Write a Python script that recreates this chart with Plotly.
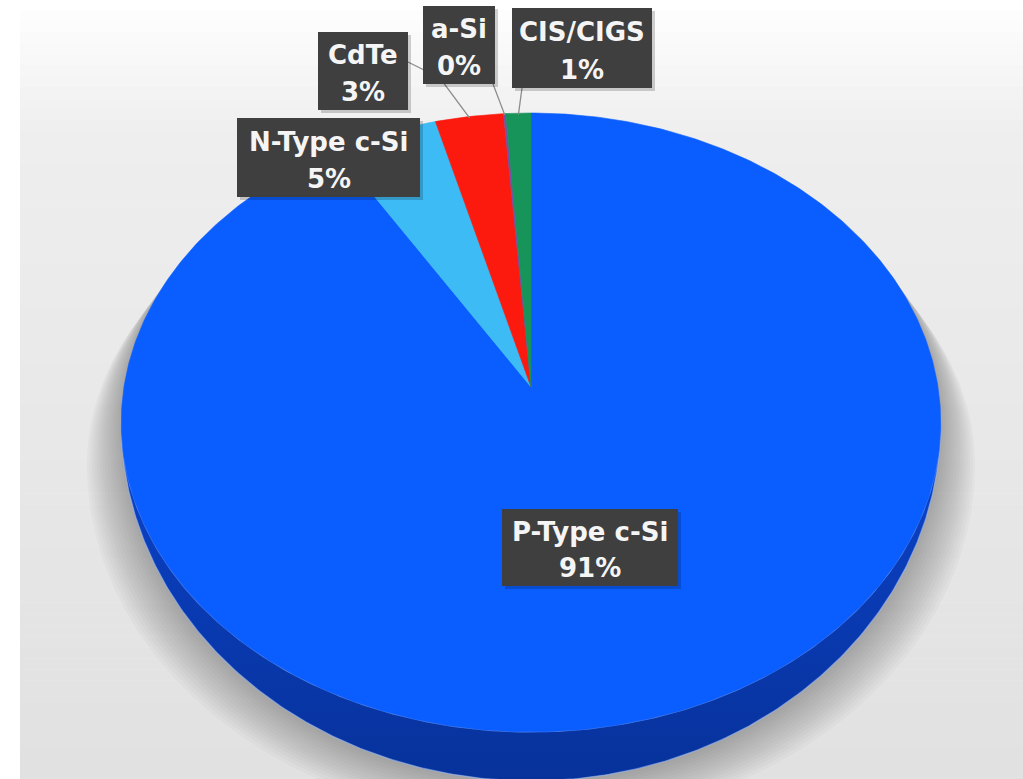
import numpy as np
import plotly.graph_objects as go

# ---- data -------------------------------------------------------------
labels = ["P-Type c-Si", "N-Type c-Si", "CdTe", "a-Si", "CIS/CIGS"]
shares = [91.2, 4.6, 3.0, 0.1, 1.1]          # percent of total
colors = ["#0a5dff", "#3dbbf4", "#fc1a0e", "#7a4fa8", "#16945a"]

# ---- geometry of the tilted pie (perspective view of a disc) ----------
W, H = 1023, 779
CX, CY = 531.0, 387.0      # projected centre of the disc
AX, BY = 407.0, 305.4      # horizontal / vertical radius scale
P = 0.1147                 # perspective strength (far side smaller)
WALL = 1.158               # lower rim is seen more open than the upper one


def project(theta, r=1.0):
    x = r * np.cos(theta)
    y = r * np.sin(theta)
    d = 1.0 + P * y
    return CX + AX * x / d, CY - BY * y / d


def arc(t0, t1, n=200):
    t = np.linspace(t0, t1, n)
    return project(t)


a = np.arcsin(P)
tL, tR = np.pi + a, 2 * np.pi - a            # widest points of the top face
_, PIVOT = project(tL)


def lower_rim(t0, t1, n=300):
    x, y = arc(t0, t1, n)
    return x, PIVOT + (y - PIVOT) * WALL


fig = go.Figure()

# ---- background -------------------------------------------------------
shapes = []
shapes.append(dict(type="rect", xref="x", yref="y", x0=0, x1=W, y0=0, y1=H,
                   fillcolor="#ffffff", line_width=0, layer="below"))
nb = 70
for i in range(nb):
    y0 = 10 + (H - 10) * i / nb
    y1 = 10 + (H - 10) * (i + 1) / nb
    f = i / (nb - 1)
    if f < 0.16:
        g = 253 - (253 - 238) * (f / 0.16)
    else:
        g = 238 - (238 - 225) * ((f - 0.16) / 0.84)
    g = int(round(g))
    shapes.append(dict(type="rect", xref="x", yref="y", x0=20, x1=W, y0=y0, y1=y1 + 0.5,
                       fillcolor=f"rgb({g},{g},{g})", line_width=0, layer="below"))

# ---- silhouette and soft shadow --------------------------------------
top_back = arc(tR - 2 * np.pi, tL, 300)
bot_front = lower_rim(tL, tR, 300)
sil_x = np.concatenate([top_back[0], bot_front[0]])
sil_y = np.concatenate([top_back[1], bot_front[1]])

for k in range(14, 0, -1):
    s = 1.0 + 0.006 * k
    sx = CX + (sil_x - CX) * s
    sy = sil_y + 3.0 * k
    fig.add_trace(go.Scatter(x=sx, y=sy, fill="toself", mode="lines",
                             line=dict(width=0), fillcolor="rgba(90,90,90,0.036)",
                             hoverinfo="skip", showlegend=False))

# ---- side wall (front half of the rim) --------------------------------
tx, ty = arc(tL, tR, 300)
bx, by = lower_rim(tR, tL, 300)
fig.add_trace(go.Scatter(
    x=np.concatenate([tx, bx]), y=np.concatenate([ty, by]),
    fill="toself", mode="lines", line=dict(width=1.2, color="rgba(150,185,255,0.55)"),
    fillgradient=dict(type="vertical",
                      colorscale=[[0, "#07329a"], [0.6, "#0a3cb8"], [1, "#0b46cc"]]),
    hoverinfo="skip", showlegend=False))

# ---- top face slices --------------------------------------------------
total = sum(shares)
start = np.pi / 2
mids = []
for lab, v, c in zip(labels, shares, colors):
    span = 2 * np.pi * v / total
    t0, t1 = start, start - span
    n = max(4, int(abs(span) / (2 * np.pi) * 600))
    rx, ry = arc(t0, t1, n)
    px = np.concatenate([[CX], rx, [CX]])
    py = np.concatenate([[CY], ry, [CY]])
    fig.add_trace(go.Scatter(x=px, y=py, fill="toself", mode="lines",
                             line=dict(width=0.6, color=c), fillcolor=c,
                             name=lab, hoverinfo="name", showlegend=False))
    mids.append((t0 + t1) / 2)
    start = t1

# ---- data labels ------------------------------------------------------
# box extents (x0, x1, y0, y1) and the leader start point for each label
boxes = {
    "P-Type c-Si": (502, 678, 509, 586),
    "N-Type c-Si": (237, 420, 118, 197),
    "CdTe": (318, 408, 32, 110),
    "a-Si": (423, 495, 6, 84),
    "CIS/CIGS": (512, 652, 8, 88),
}
leaders = {
    "CdTe": [(408, 62), (440, 78)],
    "a-Si": [(493, 84)],
    "CIS/CIGS": [(522, 88)],
}
draw_order = ["CdTe", "a-Si", "CIS/CIGS", "N-Type c-Si", "P-Type c-Si"]

annotations = []
label_font = dict(family="DejaVu Sans", size=26, color="#f5f5f5")
for lab in draw_order:
    i = labels.index(lab)
    v = shares[i]
    x0, x1, y0, y1 = boxes[lab]
    if lab in leaders:
        ex, ey = project(mids[i], r=0.995)
        pts = leaders[lab] + [(float(ex), float(ey))]
        path = "M " + " L ".join(f"{px},{py}" for px, py in pts)
        shapes.append(dict(type="path", xref="x", yref="y", path=path,
                           line=dict(color="#8c8c8c", width=1.3), layer="above"))
    # faint drop shadow, then the box
    shapes.append(dict(type="rect", xref="x", yref="y", x0=x0 + 3, x1=x1 + 3, y0=y0 + 3, y1=y1 + 3,
                       fillcolor="rgba(0,0,0,0.18)", line_width=0, layer="above"))
    shapes.append(dict(type="rect", xref="x", yref="y", x0=x0, x1=x1, y0=y0, y1=y1,
                       fillcolor="#3f3f3f", line_width=0, layer="above"))
    xm = (x0 + x1) / 2
    hgt = y1 - y0
    annotations.append(dict(x=xm, y=y0 + hgt * 0.30, xref="x", yref="y",
                            text=f"<b>{lab}</b>", showarrow=False, font=label_font,
                            xanchor="center", yanchor="middle"))
    annotations.append(dict(x=xm, y=y0 + hgt * 0.77, xref="x", yref="y",
                            text=f"<b>{round(v):.0f}%</b>", showarrow=False, font=label_font,
                            xanchor="center", yanchor="middle"))

fig.update_layout(
    width=W, height=H,
    margin=dict(l=0, r=0, t=0, b=0),
    paper_bgcolor="#ffffff", plot_bgcolor="rgba(0,0,0,0)",
    xaxis=dict(range=[0, W], visible=False, fixedrange=True),
    yaxis=dict(range=[H, 0], visible=False, fixedrange=True),
    shapes=shapes, annotations=annotations,
    showlegend=False,
)

fig.write_html("out.html")
